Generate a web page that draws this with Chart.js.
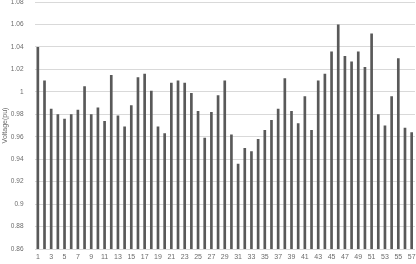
<!DOCTYPE html>
<html>
<head>
<meta charset="utf-8">
<script src="https://cdn.jsdelivr.net/npm/chart.js"></script>
<style>
  html, body { margin: 0; padding: 0; background: #fff; }
  #wrap { width: 416px; height: 264px; }
</style>
</head>
<body>
<div id="wrap"><canvas id="myChart" width="416" height="264"></canvas></div>
<script>
// bus numbers 1..57
const buses = [];
for (let i = 1; i <= 57; i++) buses.push(String(i));

// voltage per bus (pu)
const voltages = [
    1.040, 1.010, 0.985, 0.980, 0.976, 0.980, 0.984, 1.005, 0.980, 0.986,
    0.974, 1.015, 0.979, 0.969, 0.988, 1.013, 1.016, 1.001, 0.969, 0.963,
    1.008, 1.010, 1.008, 0.999, 0.983, 0.959, 0.982, 0.997, 1.010, 0.962,
    0.936, 0.950, 0.947, 0.958, 0.966, 0.975, 0.985, 1.012, 0.983, 0.972,
    0.996, 0.966, 1.010, 1.016, 1.036, 1.060, 1.032, 1.027, 1.036, 1.022,
    1.052, 0.980, 0.970, 0.996, 1.030, 0.968, 0.964
];

const yMin = 0.86;
const yMax = 1.08;
const yStep = 0.02;

const textColor = '#6b6b6b';
const fontFamily = '"Liberation Sans", Arial, sans-serif';

const ctx = document.getElementById('myChart').getContext('2d');

new Chart(ctx, {
    type: 'bar',
    data: {
        labels: buses,
        datasets: [
            {
                label: 'Voltage',
                data: voltages,
                backgroundColor: '#595959',
                borderWidth: 0,
                categoryPercentage: 1.0,
                barPercentage: 0.4
            }
        ]
    },
    options: {
        responsive: false,
        animation: false,
        layout: {
            padding: { top: 2, right: 1, bottom: 2, left: 1 }
        },
        plugins: {
            legend: { display: false },
            tooltip: { enabled: false }
        },
        scales: {
            x: {
                grid: { display: false, drawTicks: false },
                border: { display: false },
                ticks: {
                    autoSkip: false,
                    maxRotation: 0,
                    minRotation: 0,
                    padding: 4,
                    color: textColor,
                    font: { family: fontFamily, size: 7 },
                    callback: function (value, index) {
                        return index % 2 === 0 ? this.getLabelForValue(value) : '';
                    }
                },
                afterFit: s => { s.paddingLeft = 0; s.paddingRight = 0; s.height = 13; }
            },
            y: {
                min: yMin,
                max: yMax,
                grid: { color: '#d9d9d9', lineWidth: 1, drawTicks: false },
                border: { display: false },
                ticks: {
                    stepSize: yStep,
                    padding: 11,
                    color: textColor,
                    font: { family: fontFamily, size: 6.5 },
                    callback: v => String(Number(v.toFixed(2)))
                },
                title: {
                    display: true,
                    text: 'Voltage(pu)',
                    color: textColor,
                    font: { family: fontFamily, size: 7 },
                    padding: { top: 0, bottom: 2 }
                },
                afterFit: s => { s.paddingTop = 0; s.paddingBottom = 0; s.width = 33.5; }
            }
        }
    }
});
</script>
</body>
</html>
